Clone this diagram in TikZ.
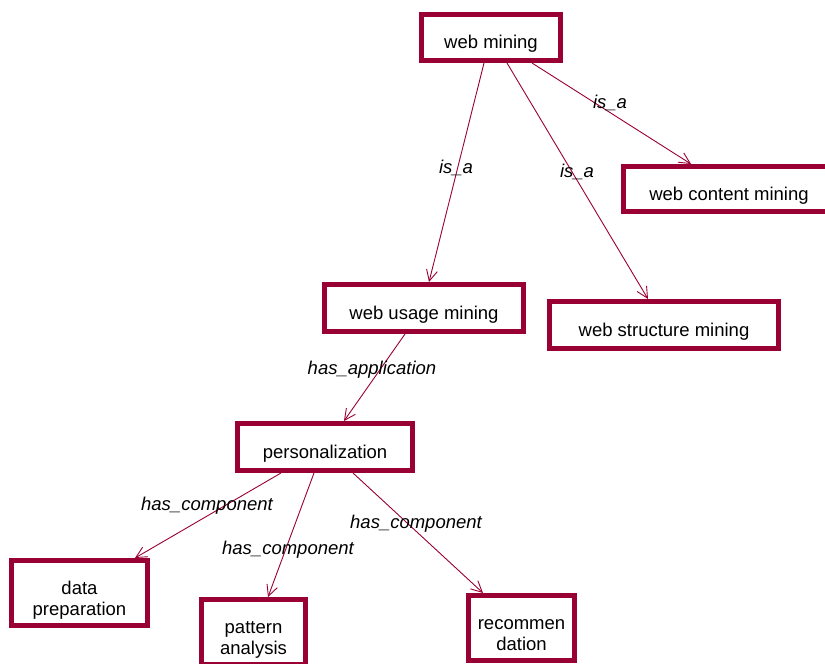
\documentclass[tikz,border=0pt]{standalone}
\usepackage{fontspec}
\setmainfont{Liberation Sans}
\usetikzlibrary{arrows.meta}
\definecolor{wine}{RGB}{153,0,51}
\begin{document}
\begin{tikzpicture}[x=1pt,y=-1pt,
  concept/.style={draw=wine, line width=5pt, fill=white, inner sep=0pt,
    font=\fontsize{18.5}{21}\selectfont, text=black, align=center},
  oneline/.style={concept, text height=22pt, text depth=0pt},
  twoline/.style={concept, text height=45pt, text depth=0pt},
  rel/.style={draw=wine, line width=0.9pt, -{Straight Barb[length=11pt,width=11pt]}},
  tag/.style={font=\fontsize{18.5}{21}\selectfont\itshape, anchor=base,
    inner sep=0pt, text=black}]
\useasboundingbox (0,0) rectangle (825,664);
\clip (0,0) rectangle (825,664);

% concepts
\node[oneline, minimum width=139pt, minimum height=46pt] (wm)  at (491,37.5)  {web mining};
\node[oneline, minimum width=211pt, minimum height=45pt] (wcm) at (729,189)   {web content mining};
\node[oneline, minimum width=199pt, minimum height=47pt] (wum) at (424,308)   {web usage mining};
\node[oneline, minimum width=229pt, minimum height=47pt] (wsm) at (664,325)   {web structure mining};
\node[oneline, minimum width=175pt, minimum height=47pt] (per) at (325,447)   {personalization};
\node[twoline, minimum width=136pt, minimum height=65pt] (dp)  at (79.5,593)  {data\\preparation};
\node[twoline, minimum width=104pt, minimum height=65pt] (pa)  at (253.5,632) {pattern\\analysis};
\node[twoline, minimum width=106pt, minimum height=65pt] (rec) at (521.5,628) {recommen\\dation};

% relations
\draw[rel] ([xshift=-7pt]wm.south)  -- ([xshift=5pt]wum.north);
\draw[rel] ([xshift=16pt]wm.south)  -- ([xshift=-16pt]wsm.north);
\draw[rel] ([xshift=41pt]wm.south)  -- ([xshift=-38pt]wcm.north);
\draw[rel] ([xshift=-19pt]wum.south) -- ([xshift=19pt]per.north);
\draw[rel] ([xshift=-44pt]per.south) -- ([xshift=55.5pt]dp.north);
\draw[rel] ([xshift=-11pt]per.south) -- ([xshift=14.5pt]pa.north);
\draw[rel] ([xshift=28pt]per.south)  -- ([xshift=-38.5pt]rec.north);

% relation names
\node[tag] (l1) at (456,173) {is\_a};
\node[tag] (l2) at (577,177) {is\_a};
\node[tag] (l3) at (610,108) {is\_a};
\node[tag] (l4) at (372,374) {has\_application};
\node[tag] (l5) at (207,510) {has\_component};
\node[tag] (l6) at (288,554) {has\_component};
\node[tag] (l7) at (416,528) {has\_component};
\end{tikzpicture}
\end{document}
